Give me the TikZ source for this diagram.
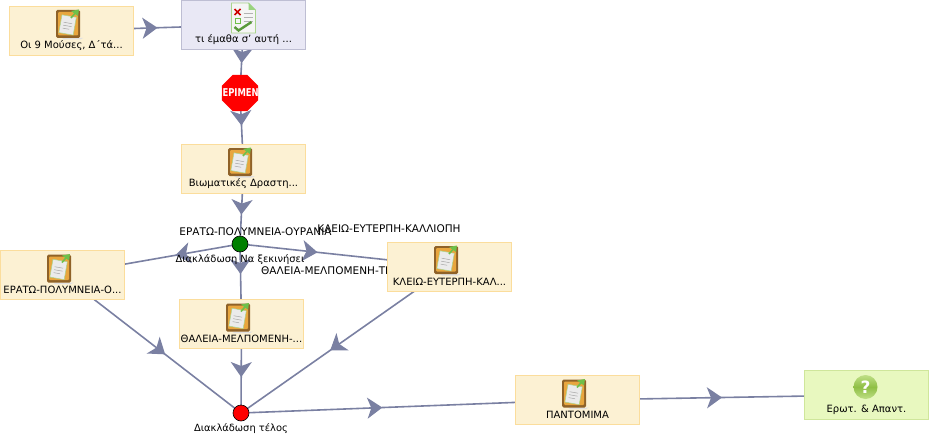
\documentclass[tikz,border=0pt]{standalone}
\usepackage{fontspec}
\usepackage{xcolor}
\setmainfont{DejaVu Sans}
\newfontfamily\stopfont[FakeStretch=0.78]{DejaVu Sans}
\usetikzlibrary{arrows.meta,backgrounds,decorations.markings,shapes.geometric}

\definecolor{flowline}{HTML}{7A80A2}
\definecolor{taskfill}{HTML}{FCF1D3}
\definecolor{taskedge}{HTML}{FBDD9C}
\definecolor{quizfill}{HTML}{E9E8F5}
\definecolor{quizedge}{HTML}{BEBED3}
\definecolor{askfill}{HTML}{E8F8BF}
\definecolor{askedge}{HTML}{CFE69B}
\definecolor{boardbrown}{HTML}{8F6228}
\definecolor{boardorange}{HTML}{E8A63E}
\definecolor{pingreen}{HTML}{6FC04A}
\definecolor{paperedge}{HTML}{A9D58C}
\definecolor{helpdark}{HTML}{8FBF45}
\definecolor{helplight}{HTML}{BFDF86}

\tikzset{
  taskbox/.style={rectangle, draw=taskedge, fill=taskfill, line width=0.9pt, minimum width=124pt, minimum height=49pt, inner sep=0pt},
  quizbox/.style={taskbox, draw=quizedge, fill=quizfill},
  askbox/.style={taskbox, draw=askedge, fill=askfill},
  caption/.style={yshift=-15.2pt, inner sep=0pt, font=\fontsize{10}{11}\selectfont},
  gate/.style={circle, draw=black, line width=0.6pt, minimum size=16pt, inner sep=0pt},
  gatetext/.style={inner sep=0pt, font=\fontsize{9.9}{11}\selectfont},
  edgetext/.style={inner sep=0pt, font=\fontsize{10.5}{11}\selectfont},
  stoptext/.style={inner sep=0pt, text=white, font=\stopfont\bfseries\fontsize{10.8}{11}\selectfont},
  flow/.style={draw=flowline, line width=1.6pt, postaction=decorate, decoration={markings,
    mark=at position #1 with {\arrow{Stealth[length=15pt, width=21pt, inset=4pt, flowline]}}}},
  noteicon/.pic={
    \fill[black!12] (-6,14) -- (15,14) -- (12,15.5) -- (-4,15.5) -- cycle;
    \fill[rounded corners=1.5pt, fill=boardbrown] (-12,-14) rectangle (12,14);
    \fill[rounded corners=1pt, fill=boardorange] (-10,-12) rectangle (10,11.5);
    \fill[rotate=-10, fill=black!8, draw=paperedge, line width=0.5pt] (-7.5,-8) rectangle (7,10);
    \draw[rotate=-10, black!35, line width=0.5pt] (-4.5,-1) -- (4,-1) (-4.5,2) -- (4,2) (-4.5,5) -- (2,5);
    \draw[pingreen, line width=1.6pt] (3,-6) -- (9,-13);
    \fill[pingreen] (3,-13) -- (11,-14.5) -- (10,-8) -- cycle;
  },
  sheeticon/.pic={
    \fill[black!4, draw=paperedge, line width=0.8pt] (-12,-15) -- (5,-15) -- (12,-8) -- (12,15) -- (-12,15) -- cycle;
    \fill[pingreen!70] (5,-15) -- (12,-8) -- (5,-8) -- cycle;
    \draw[red!80!black, line width=1.7pt] (-9,-9) -- (-3,-3) (-3,-9) -- (-9,-3);
    \draw[pingreen, line width=0.7pt] (-8.5,0) rectangle (-3.5,5);
    \draw[black!30, line width=0.6pt] (0,-5) -- (9,-5) (0,-1) -- (9,-1) (0,3) -- (9,3);
    \draw[pingreen!80!black, line width=2.4pt] (-9,9) -- (-5,12.5) -- (8,4);
  },
  helpicon/.pic={
    \shade[top color=helplight, bottom color=helplight, middle color=helpdark] (0,0) circle (12);
    \node[inner sep=0pt, white, font=\bfseries\fontsize{17}{17}\selectfont] (helpmark) at (0,0) {?};
  },
}

\begin{document}
\begin{tikzpicture}[x=1pt, y=-1pt]
  \useasboundingbox (0,0) rectangle (931,436);

  % texts lying under the boxes
  \node[edgetext] (eratolabel) at (255.5,231.5) {ΕΡΑΤΩ-ΠΟΛΥΜΝΕΙΑ-ΟΥΡΑΝΙΑ};
  \node[edgetext] (kleiolabel) at (389,228.5) {ΚΛΕΙΩ-ΕΥΤΕΡΠΗ-ΚΑΛΛΙΟΠΗ};
  \node[edgetext, anchor=west] (thaleialabel) at (261,271) {ΘΑΛΕΙΑ-ΜΕΛΠΟΜΕΝΗ-ΤΕ};

  \node[taskbox, label={[caption]center:Οι 9 Μούσες, Δ΄τά...}] (mouses) at (71.5,30.5) {};
  \node[quizbox, label={[caption, yshift=1pt]center:τι έμαθα σ' αυτή ...}] (ematha) at (243.5,25) {};
  \node[regular polygon, regular polygon sides=8, fill=red, minimum size=39pt, inner sep=0pt, label={[stoptext]center:ΠΕΡΙΜΕΝΕ}] (perimene) at (240,93) {};
  \node[taskbox, label={[caption]center:Βιωματικές Δραστη...}] (viomatikes) at (243.5,168.5) {};
  \node[gate, fill=green!50!black, label={[gatetext, yshift=-16pt]center:Διακλάδωση Να ξεκινήσει}] (arxi) at (240,244) {};
  \node[taskbox, label={[caption]center:ΕΡΑΤΩ-ΠΟΛΥΜΝΕΙΑ-Ο...}] (erato) at (62.5,275) {};
  \node[taskbox, label={[caption]center:ΘΑΛΕΙΑ-ΜΕΛΠΟΜΕΝΗ-...}] (thaleia) at (241.5,324) {};
  \node[taskbox, label={[caption]center:ΚΛΕΙΩ-ΕΥΤΕΡΠΗ-ΚΑΛ...}] (kleio) at (449.5,266.5) {};
  \node[gate, fill=red, label={[gatetext, yshift=-16pt]center:Διακλάδωση τέλος}] (telos) at (241,413) {};
  \node[taskbox, label={[caption]center:ΠΑΝΤΟΜΙΜΑ}] (pantomima) at (577.5,400) {};
  \node[askbox, label={[caption]center:Ερωτ. \& Απαντ.}] (erotisi) at (866.5,395) {};

  \begin{scope}[on background layer]
    \foreach \from/\to/\where in {mouses/ematha/.5, ematha/perimene/.56, perimene/viomatikes/.43,
      viomatikes/arxi/.61, arxi/erato/.365, arxi/thaleia/.375, arxi/kleio/.37,
      erato/telos/.575, thaleia/telos/.596, kleio/telos/.572,
      telos/pantomima/.42, pantomima/erotisi/.5}
      \draw[flow=\where] (\from.center) -- (\to.center);
  \end{scope}

  \foreach \task in {mouses, viomatikes, erato, thaleia, kleio, pantomima}
    \pic at ([shift={(-3.5,-6.5)}]\task.center) {noteicon};
  \pic at ([shift={(0,-7)}]ematha.center) {sheeticon};
  \pic at ([shift={(-1,-8)}]erotisi.center) {helpicon};
\end{tikzpicture}
\end{document}
